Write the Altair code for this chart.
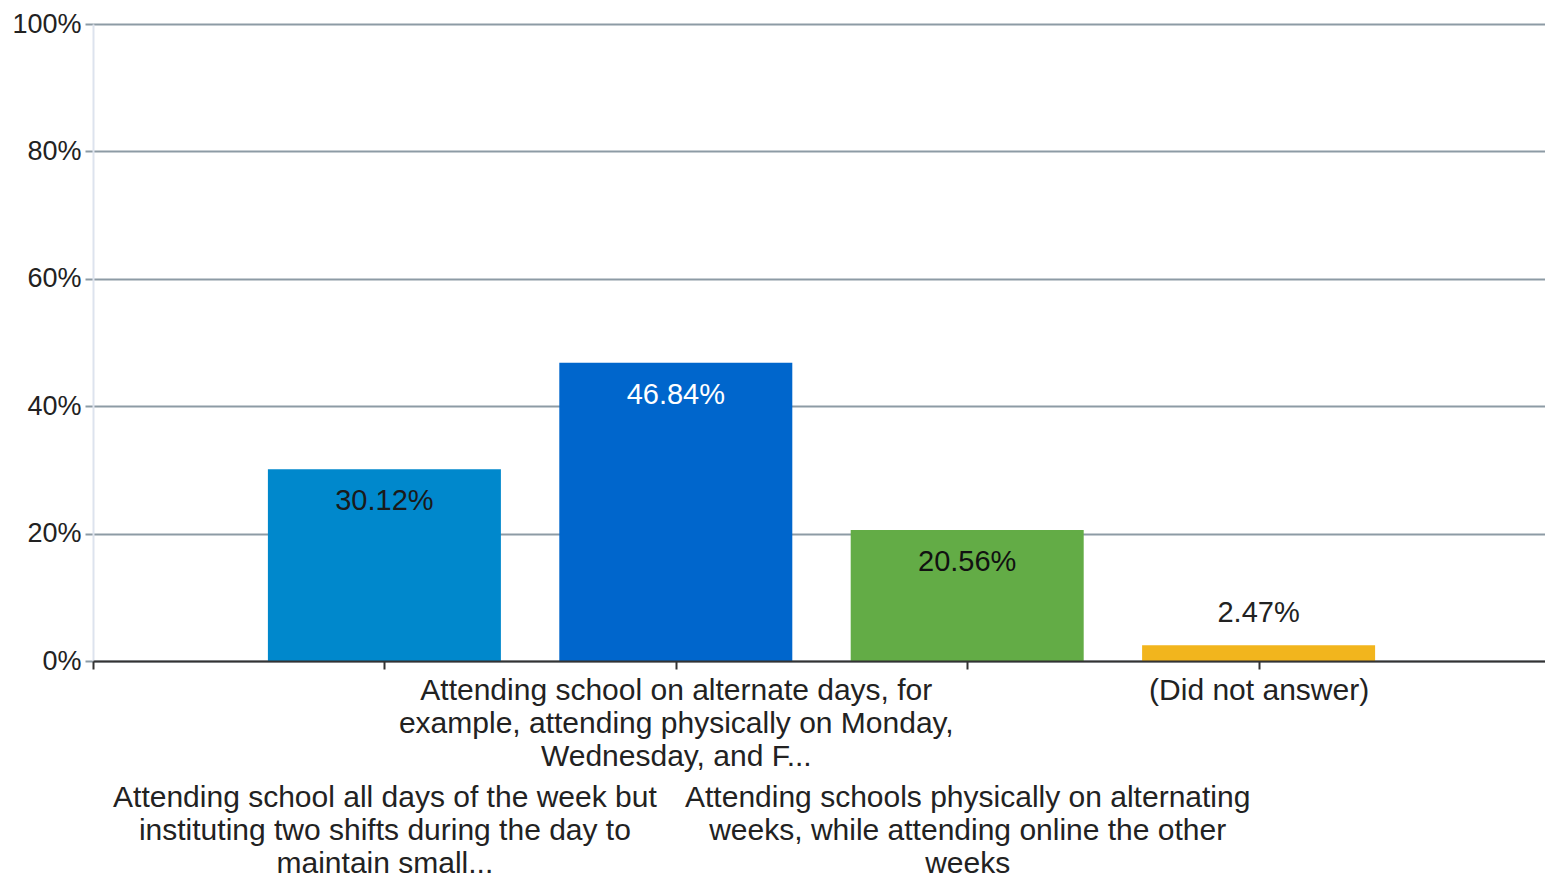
import json
import altair as alt
import pandas as pd

categories = [
    "Attending school all days of the week but instituting two shifts during the day to maintain small...",
    "Attending school on alternate days, for example, attending physically on Monday, Wednesday, and F...",
    "Attending schools physically on alternating weeks, while attending online the other weeks",
    "(Did not answer)",
]
label_lines = [
    ["Attending school all days of the week but", "instituting two shifts during the day to", "maintain small..."],
    ["Attending school on alternate days, for", "example, attending physically on Monday,", "Wednesday, and F..."],
    ["Attending schools physically on alternating", "weeks, while attending online the other", "weeks"],
    ["(Did not answer)"],
]
values = [0.3012, 0.4684, 0.2056, 0.0247]
colors = ["#0088CC", "#0066CC", "#63AC46", "#F2B51D"]
text_colors = ["#1a1a1a", "#ffffff", "#111111", "#222222"]

df = pd.DataFrame({
    "category": categories,
    "idx": list(range(1, len(categories) + 1)),
    "value": values,
    "color": colors,
    "tcolor": text_colors,
})

FONT = "Liberation Sans"
FS_LABEL = 30
FS_NUM = 29
FS_Y = 27

label_expr = (
    "(datum.value >= 1 && datum.value <= %d) ? %s[datum.value - 1] : ''"
    % (len(label_lines), json.dumps(label_lines))
)

x = alt.X(
    "idx:Q",
    scale=alt.Scale(domain=[0, len(categories) + 1], nice=False, zero=False,
                    padding=0, range=[0, 1457]),
    axis=alt.Axis(
        title=None,
        values=list(range(0, len(categories) + 2)),
        labelExpr=label_expr,
        grid=False,
        domainColor="#333333",
        domainWidth=2,
        tickColor="#333333",
        tickWidth=2,
        tickSize=8,
        labelPadding=alt.condition("datum.value % 2 == 1", alt.value(113), alt.value(6)),
        labelFont=FONT,
        labelFontSize=FS_LABEL,
        labelColor="#222222",
        labelLineHeight=33,
        labelLimit=0,
        labelOverlap=False,
        labelFlush=False,
        labelBound=False,
        zindex=1,
    ),
)

y = alt.Y(
    "value:Q",
    scale=alt.Scale(domain=[0, 1], nice=False),
    axis=alt.Axis(
        title=None,
        values=[0, 0.2, 0.4, 0.6, 0.8, 1.0],
        format=".0%",
        grid=True,
        gridColor="#8d9ba5",
        gridWidth=2,
        domainColor="#dde3ee",
        domainWidth=2,
        tickColor="#8d9ba5",
        tickWidth=2,
        tickSize=8,
        labelPadding=4,
        labelFont=FONT,
        labelFontSize=FS_Y,
        labelColor="#222222",
        labelLimit=0,
    ),
)

base = alt.Chart(df)

bars = base.mark_bar(size=233).encode(
    x=x,
    y=y,
    color=alt.Color("color:N", scale=None, legend=None),
)

inside = base.transform_filter("datum.value >= 0.1").mark_text(
    dy=32, baseline="middle", font=FONT, fontSize=FS_NUM
).encode(
    x="idx:Q",
    y="value:Q",
    text=alt.Text("value:Q", format=".2%"),
    color=alt.Color("tcolor:N", scale=None, legend=None),
)

above = base.transform_filter("datum.value < 0.1").mark_text(
    dy=-32, baseline="middle", font=FONT, fontSize=FS_NUM
).encode(
    x="idx:Q",
    y="value:Q",
    text=alt.Text("value:Q", format=".2%"),
    color=alt.Color("tcolor:N", scale=None, legend=None),
)

chart = (
    alt.layer(bars, inside, above)
    .properties(
        width=1452,
        height=637,
        autosize=alt.AutoSizeParams(type="none"),
        padding={"left": 85, "top": 16, "right": 0, "bottom": 221},
    )
    .configure_view(stroke=None)
    .configure(background="white")
)

chart.save("out.html", embed_options={"renderer": "svg", "actions": False})
